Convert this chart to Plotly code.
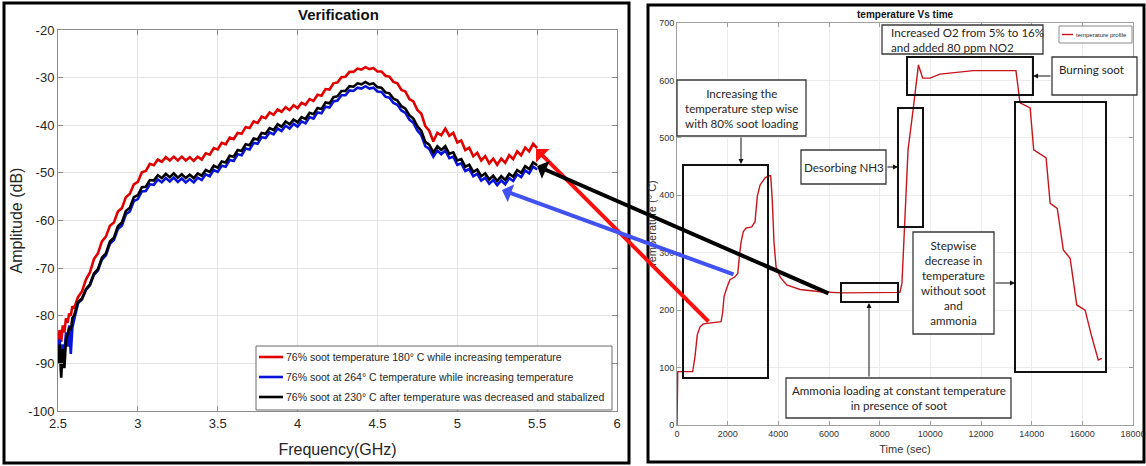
import plotly.graph_objects as go

W, H = 1146, 466


def px(x):
    return x / W


def py(y):
    return 1 - y / H


SANS = "Liberation Sans Narrow, Arial Narrow, Liberation Sans, Arial, sans-serif"
CAL = "Lato, Carlito, Calibri, sans-serif"

# ---------------- data: left chart ----------------
freq_ghz = [2.50, 2.51, 2.52, 2.53, 2.54, 2.55, 2.56, 2.57, 2.58, 2.59, 2.60,
            2.625, 2.65, 2.675, 2.7, 2.725, 2.75, 2.775, 2.8, 2.825, 2.85,
            2.875, 2.9, 2.925, 2.95, 2.975, 3.0, 3.025, 3.05, 3.075, 3.1,
            3.125, 3.15, 3.175, 3.2, 3.225, 3.25, 3.275, 3.3, 3.325, 3.35,
            3.375, 3.4, 3.425, 3.45, 3.475, 3.5, 3.525, 3.55, 3.575, 3.6,
            3.625, 3.65, 3.675, 3.7, 3.725, 3.75, 3.775, 3.8, 3.825, 3.85,
            3.875, 3.9, 3.925, 3.95, 3.975, 4.0, 4.025, 4.05, 4.075, 4.1,
            4.125, 4.15, 4.175, 4.2, 4.225, 4.25, 4.275, 4.3, 4.325, 4.35,
            4.375, 4.4, 4.425, 4.45, 4.475, 4.5, 4.525, 4.55, 4.575, 4.6,
            4.625, 4.65, 4.675, 4.7, 4.725, 4.75, 4.775, 4.8, 4.825, 4.85,
            4.875, 4.9, 4.925, 4.95, 4.975, 5.0, 5.025, 5.05, 5.075, 5.1,
            5.125, 5.15, 5.175, 5.2, 5.225, 5.25, 5.275, 5.3, 5.325, 5.35,
            5.375, 5.4, 5.425, 5.45, 5.475, 5.5]

amp_180c_red = [-86.0, -83.0, -85.5, -82.0, -83.5, -80.5, -81.5, -79.5, -80.0, -78.0, -78.5,
                -76.1, -74.9, -72.4, -70.9, -68.1, -66.9, -64.4, -63.4, -61.1, -60.4,
                -58.1, -57.4, -55.1, -54.4, -52.4, -51.9, -49.9, -49.6, -48.1, -48.4,
                -47.2, -47.7, -46.7, -47.4, -46.6, -47.4, -46.6, -47.4, -46.7, -47.5,
                -46.6, -47.2, -45.9, -46.2, -44.8, -45.1, -43.7, -44.0, -42.6, -42.9,
                -41.6, -41.8, -40.4, -40.6, -39.2, -39.5, -38.2, -38.5, -37.3, -37.8,
                -36.7, -37.2, -36.2, -36.8, -35.8, -36.4, -35.3, -35.7, -34.5, -34.9,
                -33.6, -33.8, -32.4, -32.5, -31.2, -31.0, -29.9, -29.8, -28.8, -28.8,
                -28.1, -28.3, -27.8, -28.2, -28.0, -28.7, -28.7, -29.6, -29.8, -30.9,
                -31.2, -32.6, -32.9, -34.5, -35.0, -36.8, -37.6, -40.2, -41.2, -43.4,
                -41.6, -42.1, -40.7, -42.2, -41.6, -43.6, -43.2, -45.2, -44.7, -46.5,
                -45.8, -47.4, -46.5, -48.0, -47.0, -48.3, -47.0, -47.9, -46.3, -47.1,
                -45.5, -46.3, -44.7, -45.5, -43.9, -44.8]

amp_264c_blue = [-87.0, -85.0, -89.0, -86.0, -88.0, -83.5, -86.5, -82.0, -88.0, -82.5, -81.0,
                 -77.4, -76.6, -74.6, -73.6, -71.4, -70.5, -68.2, -67.3, -64.9, -64.1,
                 -61.8, -61.1, -58.7, -58.1, -55.9, -55.5, -53.9, -53.8, -52.4, -52.5,
                 -51.4, -52.0, -51.1, -51.8, -51.0, -51.9, -51.2, -52.0, -51.3, -52.0,
                 -51.0, -51.5, -50.3, -50.7, -49.4, -49.8, -48.5, -48.7, -47.3, -47.5,
                 -46.1, -46.3, -44.9, -45.1, -43.7, -43.9, -42.5, -42.7, -41.5, -41.9,
                 -40.7, -41.2, -40.1, -40.7, -39.7, -40.3, -39.2, -39.6, -38.3, -38.6,
                 -37.3, -37.5, -36.1, -36.3, -35.0, -34.8, -33.7, -33.7, -32.7, -32.8,
                 -32.1, -32.3, -31.8, -32.3, -32.1, -32.9, -33.0, -34.0, -34.2, -35.3,
                 -35.7, -36.9, -37.4, -38.8, -39.5, -41.1, -42.1, -44.4, -45.0, -46.6,
                 -45.3, -46.1, -45.3, -46.9, -46.6, -48.3, -48.0, -49.6, -49.2, -50.7,
                 -50.2, -51.6, -51.0, -52.3, -51.5, -52.6, -51.6, -52.4, -51.1, -51.7,
                 -50.3, -50.9, -49.5, -50.1, -48.7, -49.3]

amp_230c_black = [-90.0, -86.0, -93.0, -87.0, -91.0, -85.0, -84.0, -82.5, -83.0, -80.5, -80.0,
                  -77.1, -76.4, -74.4, -73.4, -71.1, -70.2, -67.8, -66.9, -64.4, -63.6,
                  -61.2, -60.4, -58.0, -57.3, -55.1, -54.7, -53.0, -52.9, -51.5, -51.6,
                  -50.5, -51.1, -50.2, -50.9, -50.1, -51.0, -50.3, -51.1, -50.4, -51.1,
                  -50.1, -50.6, -49.4, -49.8, -48.5, -48.9, -47.6, -47.8, -46.4, -46.6,
                  -45.2, -45.4, -44.0, -44.2, -42.8, -43.0, -41.6, -41.8, -40.6, -41.0,
                  -39.8, -40.3, -39.2, -39.8, -38.8, -39.4, -38.3, -38.7, -37.4, -37.7,
                  -36.4, -36.6, -35.2, -35.4, -34.1, -33.9, -32.8, -32.8, -31.8, -31.9,
                  -31.2, -31.4, -30.9, -31.4, -31.2, -32.0, -32.1, -33.1, -33.3, -34.4,
                  -34.8, -36.0, -36.5, -37.9, -38.6, -40.2, -41.2, -43.5, -44.1, -45.7,
                  -44.4, -45.2, -44.4, -46.0, -45.7, -47.4, -47.1, -48.7, -48.3, -49.8,
                  -49.3, -50.7, -50.1, -51.4, -50.6, -51.7, -50.7, -51.5, -50.2, -50.8,
                  -49.4, -50.0, -48.6, -49.2, -47.8, -48.4]

series_names = ["76% soot temperature 180° C while increasing temperature",
                "76% soot at 264° C temperature while increasing temperature",
                "76% soot at 230° C after temperature was decreased and stabalized"]
series_colors = ["#e00000", "#0a14d8", "#000000"]

amp_ticks = [-100, -90, -80, -70, -60, -50, -40, -30, -20]
amp_ticktext = ["-100", "-90", "-80", "-70", "-60", "-50", "-40", "-30", "-20"]
freq_ticks = [2.5, 3, 3.5, 4, 4.5, 5, 5.5, 6]
freq_ticktext = ["2.5", "3", "3.5", "4", "4.5", "5", "5.5", "6"]

# ---------------- data: right chart ----------------
time_sec = [0, 30, 620, 710, 800, 910, 1040, 1300, 1740, 1800, 1860, 1960, 2090,
            2290, 2400, 2460, 2530, 2620, 2720, 2950, 3080, 3170, 3280, 3470, 3600,
            3700, 3760, 3830, 3910, 4070, 4330, 4860, 5650, 6500, 7500, 8500, 8800,
            8880, 9000, 9120, 9320, 9430, 9530, 9700, 9990, 10380, 11700, 12500,
            13380, 13540, 13640, 13870, 13940, 14080, 14270, 14570, 14730, 15010,
            15250, 15520, 15780, 16110, 16370, 16630, 16770]
temperature_c = [0, 93, 93, 119, 157, 171, 176, 177, 180, 195, 224, 238, 253,
                 258, 264, 293, 319, 337, 343, 345, 354, 398, 418, 430, 434,
                 434, 392, 317, 276, 258, 244, 236, 232, 230, 230, 230, 231,
                 247, 362, 479, 549, 596, 627, 604, 604, 611, 617, 617,
                 617, 561, 559, 554, 552, 479, 473, 465, 386, 377,
                 305, 290, 209, 200, 154, 113, 116]
temp_name = "temperature profile"
temp_color = "#c8141c"

time_ticks = [0, 2000, 4000, 6000, 8000, 10000, 12000, 14000, 16000, 18000]
time_ticktext = ["0", "2000", "4000", "6000", "8000", "10000", "12000", "14000", "16000", "18000"]
temp_ticks = [0, 100, 200, 300, 400, 500, 600, 700]
temp_ticktext = ["0", "100", "200", "300", "400", "500", "600", "700"]

assert len(freq_ghz) == len(amp_180c_red) == len(amp_264c_blue) == len(amp_230c_black)
assert len(time_sec) == len(temperature_c)

fig = go.Figure()
for vals, name, col in zip([amp_180c_red, amp_264c_blue, amp_230c_black], series_names, series_colors):
    fig.add_trace(go.Scatter(x=freq_ghz, y=vals, mode="lines", name=name,
                             line=dict(color=col, width=2.6), xaxis="x", yaxis="y",
                             showlegend=False))
fig.add_trace(go.Scatter(x=time_sec, y=temperature_c, mode="lines", name=temp_name,
                         line=dict(color=temp_color, width=1.4), xaxis="x2", yaxis="y2",
                         showlegend=False))

axis_common = dict(showgrid=True, zeroline=False, showline=True, mirror="ticks",
                   ticks="inside", automargin=False)

fig.update_layout(
    width=W, height=H,
    margin=dict(l=0, r=0, t=0, b=0),
    paper_bgcolor="white", plot_bgcolor="white",
    showlegend=False,
    xaxis=dict(domain=[px(58), px(617)], range=[2.5, 6], tickvals=freq_ticks,
               ticktext=freq_ticktext, gridcolor="#e4e4e4", linecolor="#8c8c8c",
               tickcolor="#8c8c8c", ticklen=5, anchor="y",
               tickfont=dict(family=SANS, size=13, color="#262626"),
               title=dict(text="Frequency(GHz)", font=dict(family=SANS, size=16, color="#262626"),
                          standoff=14),
               **axis_common),
    yaxis=dict(domain=[py(411), py(30)], range=[-100, -20], tickvals=amp_ticks,
               ticktext=amp_ticktext, gridcolor="#e4e4e4", linecolor="#8c8c8c",
               tickcolor="#8c8c8c", ticklen=5, anchor="x",
               tickfont=dict(family=SANS, size=13, color="#262626"),
               title=dict(text="Amplitude (dB)", font=dict(family="Liberation Sans, Arial, sans-serif",
                                                         size=16, color="#262626"),
                          standoff=1),
               **axis_common),
    xaxis2=dict(domain=[px(677), px(1133)], range=[0, 18000], tickvals=time_ticks,
                ticktext=time_ticktext,
                gridcolor="#ececec", linecolor="#a0a0a0", tickcolor="#a0a0a0", ticklen=4,
                anchor="y2",
                tickfont=dict(family=SANS, size=9, color="#333333"),
                title=dict(text="Time (sec)", font=dict(family=SANS, size=11, color="#333333"),
                           standoff=7),
                **axis_common),
    yaxis2=dict(domain=[py(425), py(23)], range=[0, 700], tickvals=temp_ticks,
                ticktext=temp_ticktext,
                gridcolor="#ececec", linecolor="#a0a0a0", tickcolor="#a0a0a0", ticklen=4,
                anchor="x2",
                tickfont=dict(family=SANS, size=9, color="#333333"),
                title=dict(text="Temperature (° C)", font=dict(family=SANS, size=11, color="#333333"),
                           standoff=0),
                **axis_common),
)

shapes = []


def rect(x0, y0, x1, y1, width=2.0, color="#111111", fill=None):
    shapes.append(dict(type="rect", xref="paper", yref="paper",
                       x0=px(x0), x1=px(x1), y0=py(y1), y1=py(y0),
                       line=dict(color=color, width=width),
                       fillcolor=fill if fill else "rgba(0,0,0,0)", layer="above"))


def hline(x0, x1, y, color, width):
    shapes.append(dict(type="line", xref="paper", yref="paper",
                       x0=px(x0), x1=px(x1), y0=py(y), y1=py(y),
                       line=dict(color=color, width=width), layer="above"))


# panel frames
rect(4, 3, 629, 463, width=3, color="#000000")
rect(648, 5, 1144, 462, width=3, color="#000000")

# highlight rectangles on the temperature chart
rect(683, 165, 768, 378)
rect(898, 108, 923, 227)
rect(907, 57, 1033, 95)
rect(1015, 102, 1106, 372)
rect(841, 283, 898, 302)

# text boxes
for b in [(677, 80, 806, 136), (801, 150, 886, 184), (882, 25, 1043, 54),
          (1052, 57, 1137, 95), (913, 232, 994, 334), (786, 378, 1011, 418)]:
    rect(*b, width=1.3, color="#3a3a3a", fill="white")

# legend boxes
rect(256, 346, 612, 410, width=1, color="#6a6a6a", fill="white")
legend_rows = [357, 377, 397]
for yrow, col in zip(legend_rows, series_colors):
    hline(259, 283, yrow, col, 2.6)
rect(1059, 26, 1132, 43, width=1, color="#8a8a8a", fill="white")
hline(1062, 1073, 34.5, temp_color, 1.4)

fig.update_layout(shapes=shapes)

ann = []


def text(x, y, s, size=11.6, family=CAL, align="center", xanchor="center", color="#262626"):
    ann.append(dict(x=px(x), y=py(y), xref="paper", yref="paper", text=s, showarrow=False,
                    align=align, xanchor=xanchor, yanchor="middle",
                    font=dict(family=family, size=size, color=color)))


text(338, 15, "<b>Verification</b>", size=15, family=SANS, color="#111111")
text(905, 15, "<b>temperature Vs time</b>", size=10, family=SANS, color="#111111")

for yrow, name in zip(legend_rows, series_names):
    text(284, yrow, name, size=10.5, family=SANS, align="left", xanchor="left")
text(1074, 34.5, temp_name, size=6, family=SANS, align="left", xanchor="left")

text(741.5, 109, "Increasing the<br>temperature step wise<br>with 80% soot loading")
text(843.5, 167, "Desorbing NH3")
text(889, 40, "Increased O2 from 5% to 16%<br>and added 80 ppm NO2", align="left", xanchor="left")
text(1092, 69, "Burning soot")
text(953.5, 283, "Stepwise<br>decrease in<br>temperature<br>without soot<br>and<br>ammonia")
text(898.5, 398, "Ammonia loading at constant temperature<br>in presence of soot")


def arrow(hx, hy, tx, ty, color="#111111", width=1.0, head=2, size=1.0):
    ann.append(dict(x=px(hx), y=py(hy), xref="paper", yref="paper",
                    ax=tx - hx, ay=ty - hy, axref="pixel", ayref="pixel",
                    showarrow=True, arrowhead=head, arrowsize=size,
                    arrowwidth=width, arrowcolor=color, text=""))


# small connectors
arrow(741, 164, 741, 136)
arrow(898, 167, 886, 167)
arrow(1033, 76, 1052, 76)
arrow(1015, 283, 994, 283)
arrow(869, 303, 869, 378)

# big colored arrows linking the two panels
arrow(536, 149, 710, 323, color="#ff1010", width=4, head=1, size=0.8)
arrow(502, 190, 735, 275, color="#4252f2", width=4, head=1, size=0.8)
arrow(537, 166, 830, 294, color="#000000", width=4, head=1, size=0.8)

fig.update_layout(annotations=ann)

fig.write_html("out.html")
